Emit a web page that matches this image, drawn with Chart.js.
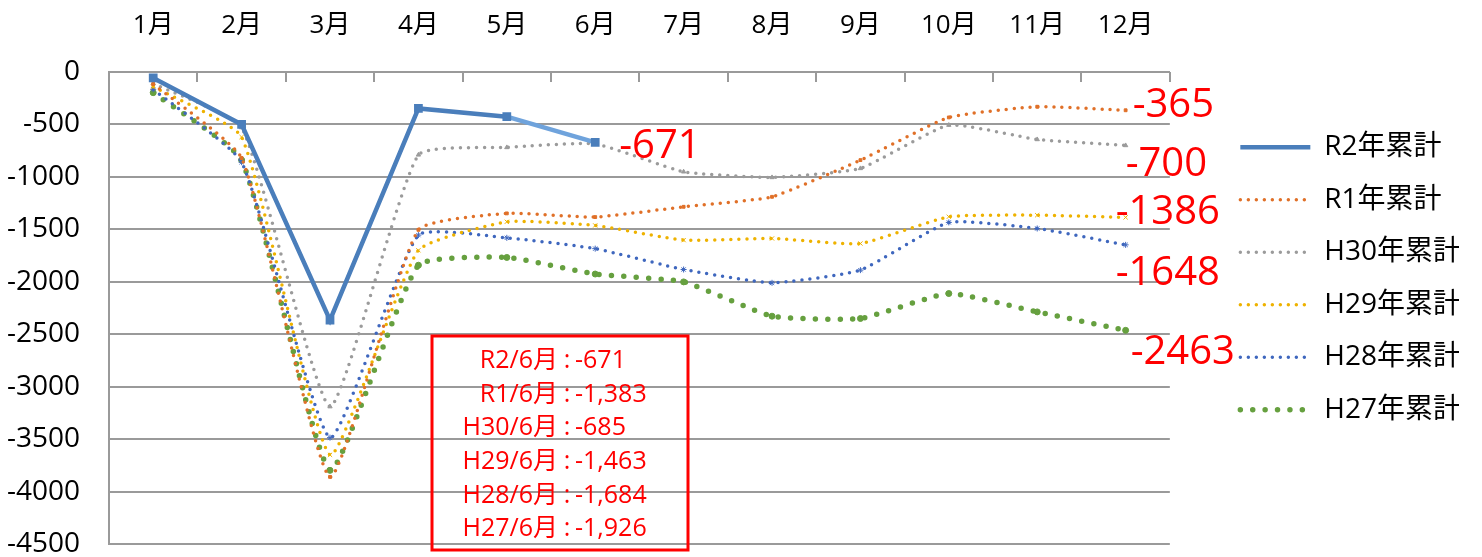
<!DOCTYPE html>
<html>
<head>
<meta charset="utf-8">
<script src="https://cdn.jsdelivr.net/npm/chart.js@4.4.0/dist/chart.umd.min.js"></script>
<style>
html, body { margin: 0; padding: 0; background: #fff; }
#wrap { width: 1482px; height: 557px; position: relative; }
</style>
</head>
<body>
<div id="wrap"><canvas id="result"></canvas></div>
<script>
// 月
const months = ['1月', '2月', '3月', '4月', '5月', '6月', '7月', '8月', '9月', '10月', '11月', '12月'];
const seriesNames = ['R2年累計', 'R1年累計', 'H30年累計', 'H29年累計', 'H28年累計', 'H27年累計'];

// 累計値
const r2 = [-57, -500, -2366, -347, -426, -671, null, null, null, null, null, null];
const r1 = [-115, -820, -3860, -1505, -1348, -1383, -1285, -1190, -840, -433, -331, -365];
const h30 = [-110, -530, -3190, -790, -719, -685, -951, -1005, -919, -506, -643, -700];
const h29 = [-140, -620, -3650, -1700, -1428, -1463, -1603, -1587, -1635, -1380, -1365, -1386];
const h28 = [-165, -860, -3486, -1555, -1581, -1684, -1883, -2010, -1889, -1434, -1492, -1648];
const h27 = [-197, -840, -3798, -1842, -1768, -1926, -2001, -2328, -2350, -2112, -2287, -2463];

// 軸
const yMin = -4500;
const yMax = 0;
const yStep = 500;

const FONT = "'Open Sans', 'Noto Sans CJK JP', sans-serif";
const gray = '#9a9a9a';
const red = '#ff0000';

// 右端ラベルの位置（点からのずれ）
const endLabelOffsets = [[24, 4], [7, -5], [0, 19], [-10, -5], [-10, 29], [5, 22]];

const decor = {
    id: 'decor',
    beforeDatasetsDraw(chart) {
        const {ctx, chartArea: a} = chart;
        ctx.save();
        ctx.strokeStyle = gray;
        ctx.lineWidth = 2;
        const w = (a.right - a.left) / months.length;
        for (let i = 0; i <= months.length; i++) {
            const x = Math.round(a.left + i * w);
            ctx.beginPath();
            ctx.moveTo(x, a.top);
            ctx.lineTo(x, a.top + 10);
            ctx.stroke();
        }
        ctx.restore();
    },
    afterDatasetsDraw(chart) {
        const ctx = chart.ctx;
        ctx.save();
        ctx.fillStyle = red;
        ctx.textBaseline = 'middle';

        // 最終値ラベル
        ctx.font = '40px ' + FONT;
        ctx.textAlign = 'left';
        chart.data.datasets.forEach((ds, i) => {
            let idx = ds.data.length - 1;
            while (ds.data[idx] === null) idx--;
            const pt = chart.getDatasetMeta(i).data[idx];
            const [dx, dy] = endLabelOffsets[i];
            ctx.fillText(String(ds.data[idx]), pt.x + dx, pt.y + dy);
        });

        // 6月の値の枠
        const box = {left: 432, top: 336, right: 688, bottom: 550};
        ctx.strokeStyle = red;
        ctx.lineWidth = 3;
        ctx.strokeRect(box.left, box.top, box.right - box.left, box.bottom - box.top);

        ctx.font = '25px ' + FONT;
        chart.data.datasets.forEach((ds, i) => {
            const y = 361 + i * 33.6;
            const name = seriesNames[i].replace('年累計', '') + '/' + months[5];
            ctx.textAlign = 'right';
            ctx.fillText(name, 558, y);
            ctx.textAlign = 'center';
            ctx.fillText(':', 567, y);
            ctx.textAlign = 'left';
            ctx.fillText(ds.data[5].toLocaleString('en-US'), 575, y);
        });
        ctx.restore();
    }
};

function dotted(label, data, color, width, gap, style, radius) {
    return {
        label: label,
        data: data,
        borderColor: color,
        backgroundColor: color,
        borderWidth: width,
        borderDash: [0, gap],
        borderCapStyle: 'round',
        tension: 0.15,
        pointStyle: style,
        pointRadius: radius,
        pointBorderWidth: 1,
        pointBorderColor: color,
        pointBackgroundColor: color
    };
}

const ctx = document.getElementById('result').getContext('2d');
const myChart = new Chart(ctx, {
    type: 'line',
    data: {
        labels: months,
        datasets: [
            {
                label: seriesNames[0],
                data: r2,
                borderColor: '#4a7ebb',
                backgroundColor: '#4a7ebb',
                borderWidth: 4.5,
                tension: 0,
                pointStyle: 'rect',
                pointRadius: 3,
                pointBackgroundColor: '#4a7ebb',
                pointBorderColor: '#4a7ebb',
                segment: {
                    borderColor: c => c.p0DataIndex >= 4 ? '#6fa3dc' : undefined
                }
            },
            dotted(seriesNames[1], r1, '#e07028', 3.5, 8, 'rect', 2),
            dotted(seriesNames[2], h30, '#9b9b9b', 3.5, 8, 'triangle', 2.5),
            dotted(seriesNames[3], h29, '#eeb200', 3.5, 8, 'crossRot', 3),
            dotted(seriesNames[4], h28, '#3f67be', 3.5, 8, 'star', 3),
            dotted(seriesNames[5], h27, '#66a03f', 5.5, 12.4, 'circle', 3)
        ]
    },
    options: {
        responsive: true,
        maintainAspectRatio: false,
        animation: false,
        layout: {
            padding: {left: 0, right: 23, top: 0, bottom: 0}
        },
        scales: {
            x: {
                position: 'top',
                offset: true,
                grid: {display: false, drawTicks: false},
                border: {display: true, color: gray, width: 2},
                ticks: {
                    color: '#000',
                    padding: 31,
                    maxRotation: 0,
                    font: {family: FONT, size: 26}
                },
                afterFit: s => { s.height = 72; }
            },
            x2: {
                axis: 'x',
                type: 'linear',
                position: 'bottom',
                ticks: {display: false},
                grid: {display: false, drawTicks: false},
                border: {display: false},
                afterFit: s => { s.height = 13; }
            },
            y: {
                min: yMin,
                max: yMax,
                ticks: {
                    stepSize: yStep,
                    color: '#000',
                    padding: 29,
                    font: {family: FONT, size: 28, lineHeight: 0.9},
                    callback: v => String(v)
                },
                grid: {color: gray, lineWidth: 2, drawTicks: false},
                border: {display: true, color: gray, width: 2},
                afterFit: s => {
                    s.width = 109;
                    s.paddingTop = 0;
                    s.paddingBottom = 0;
                }
            },
            y2: {
                axis: 'y',
                type: 'linear',
                position: 'right',
                ticks: {display: false},
                grid: {display: false, drawTicks: false},
                border: {display: false},
                afterFit: s => { s.width = 46; }
            }
        },
        plugins: {
            legend: {
                position: 'right',
                align: 'center',
                labels: {
                    usePointStyle: true,
                    pointStyle: 'line',
                    pointStyleWidth: 70,
                    padding: 24.5,
                    color: '#000',
                    font: {family: FONT, size: 28},
                    generateLabels: chart => {
                        const items = Chart.defaults.plugins.legend.labels.generateLabels(chart);
                        items.forEach(item => {
                            const ds = chart.data.datasets[item.datasetIndex];
                            item.lineWidth = ds.borderWidth;
                            item.lineDash = ds.borderDash || [];
                            item.lineCap = ds.borderCapStyle || 'butt';
                            item.strokeStyle = ds.borderColor;
                        });
                        return items;
                    }
                }
            },
            tooltip: {enabled: false}
        }
    },
    plugins: [decor]
});
</script>
</body>
</html>
